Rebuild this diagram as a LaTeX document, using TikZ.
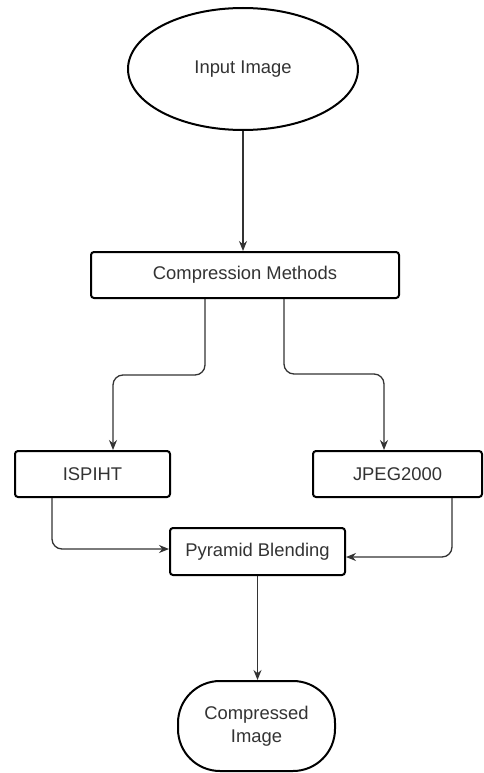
\documentclass[tikz,border=0pt]{standalone}
\usepackage{fontspec}
\setmainfont{Liberation Sans}
\usetikzlibrary{shapes.geometric,arrows.meta}
\definecolor{txt}{HTML}{333333}
\begin{document}
\begin{tikzpicture}[x=1pt,y=-1pt,
  every node/.style={font=\fontsize{18.4}{23}\selectfont, text=txt, inner sep=0pt},
  boxnode/.style={draw=black, line width=2pt, rounded corners=3pt, fill=white},
  conn/.style={draw=black!80, line width=1.3pt, rounded corners=10pt, -{Stealth[length=10pt,width=8pt]}}]
\useasboundingbox (0,0) rectangle (484,773);
\fill[white] (0,0) rectangle (484,773);
\node[ellipse, draw=black, line width=2pt, minimum width=230pt, minimum height=122pt] (in) at (243,69) {Input Image};
\node[boxnode, minimum width=308pt, minimum height=46pt] (cm) at (245,275) {Compression Methods};
\node[boxnode, minimum width=155pt, minimum height=46pt] (isp) at (92.5,474) {ISPIHT};
\node[boxnode, minimum width=169pt, minimum height=46pt] (jpg) at (397.5,474) {JPEG2000};
\node[boxnode, minimum width=175pt, minimum height=47pt] (pb) at (257.5,551.5) {Pyramid Blending};
\node[draw=black, line width=2pt, rounded corners=42pt, minimum width=157pt, minimum height=90pt, align=center] (ci) at (256.5,726) {Compressed\\Image};
\draw[conn] (in.south) -- (in.south |- cm.north);
\draw[conn] ([xshift=-40pt]cm.south) -- ++(0,76) -| ([xshift=20.5pt]isp.north);
\draw[conn] ([xshift=39pt]cm.south) -- ++(0,75) -| ([xshift=-13.5pt]jpg.north);
\draw[conn] ([xshift=-40.5pt]isp.south) |- ([yshift=2.5pt]pb.west);
\draw[conn] ([xshift=54.5pt]jpg.south) |- ([yshift=-5.5pt]pb.east);
\draw[conn] (pb.south) -- (pb.south |- ci.north);
\end{tikzpicture}
\end{document}
